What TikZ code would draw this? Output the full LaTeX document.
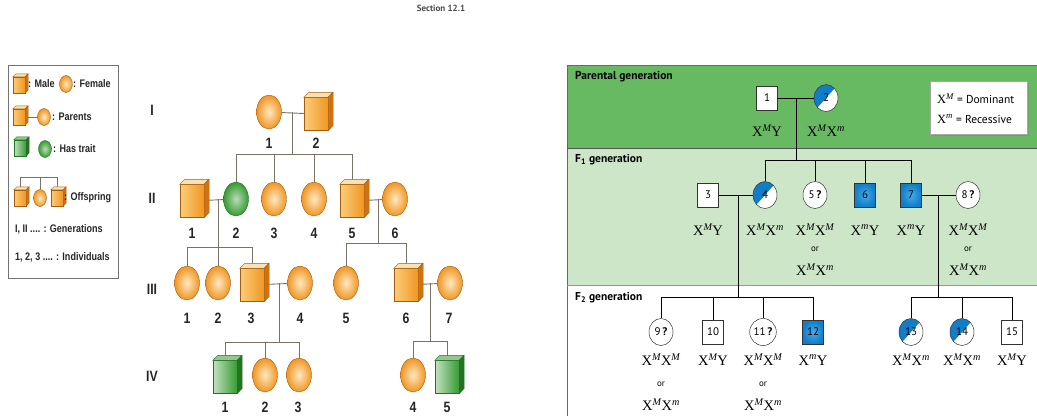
\documentclass[tikz,border=0pt]{standalone}
\usepackage{fontspec}
\setmainfont{Liberation Serif}
\setsansfont{PT Sans}
\newfontfamily\pedfont[FakeStretch=0.82]{Liberation Sans}
\usetikzlibrary{shapes.geometric,shadows}
\pgfdeclarelayer{bands}
\pgfdeclarelayer{links}
\pgfsetlayers{bands,links,main}
\definecolor{pedorange}{RGB}{240,150,35}
\definecolor{pedorangelight}{RGB}{252,205,120}
\definecolor{pedorangedark}{RGB}{205,115,20}
\definecolor{pedgreen}{RGB}{55,155,50}
\definecolor{pedgreendark}{RGB}{35,115,35}
\definecolor{pedline}{RGB}{120,115,100}
\definecolor{bandP}{RGB}{103,186,98}
\definecolor{bandF}{RGB}{206,230,200}
\definecolor{trait}{RGB}{15,125,200}
\definecolor{traitlight}{RGB}{70,170,235}
\definecolor{framegray}{RGB}{105,105,105}
\newcommand\gsup[1]{\textsuperscript{\itshape #1}}
\tikzset{
 pedlink/.style={draw=pedline, line width=0.9pt},
 rlink/.style={draw=black, line width=0.8pt},
 fem/.style={ellipse, inner sep=0pt, minimum width=25pt, minimum height=34pt, draw=pedorangedark!80!black, line width=0.4pt, inner color=pedorangelight!45!white, outer color=pedorange},
 femg/.style={fem, draw=pedgreendark, inner color=pedgreen!35!white, outer color=pedgreen},
 fems/.style={minimum width=13pt, minimum height=17pt},
 maleo/.style={rectangle, inner sep=0pt, draw=pedorangedark!80!black, line width=0.4pt, left color=pedorangelight, right color=pedorange},
 maleotop/.style={fill=pedorangelight!60!white, draw=pedorangedark!80!black, line width=0.4pt},
 maleoside/.style={fill=pedorangedark, draw=pedorangedark!80!black, line width=0.4pt},
 maleg/.style={rectangle, inner sep=0pt, draw=pedgreendark, line width=0.4pt, left color=pedgreen!30!white, right color=pedgreen},
 malegtop/.style={fill=pedgreen!55!white, draw=pedgreendark, line width=0.4pt},
 malegside/.style={fill=pedgreendark, draw=pedgreendark, line width=0.4pt},
 gen/.style={font=\pedfont\bfseries\fontsize{15}{15}\selectfont, inner sep=0pt, text=black!85},
 leg/.style={font=\pedfont\bfseries\fontsize{11}{11}\selectfont, inner sep=0pt, anchor=west, text=black!85},
 sq/.style={rectangle, draw=black!80, line width=0.5pt, fill=white, minimum width=21pt, minimum height=24pt, inner sep=0pt, font=\sffamily\fontsize{11}{11}\selectfont},
 sqb/.style={sq, inner color=traitlight, outer color=trait},
 ci/.style={ellipse, draw=black!80, line width=0.5pt, fill=white, minimum width=24pt, minimum height=27pt, inner sep=0pt, font=\sffamily\fontsize{11}{11}\selectfont},
 cih/.style={ci, path picture={\fill[trait] (path picture bounding box.south west) -- (path picture bounding box.north west) -- (path picture bounding box.north east) -- cycle;}},
 geno/.style={font=\fontsize{14.5}{15}\selectfont, inner sep=0pt},
 orr/.style={font=\sffamily\fontsize{9}{9}\selectfont, inner sep=0pt},
 bandlabel/.style={font=\sffamily\bfseries\fontsize{11.5}{12}\selectfont, anchor=west, inner sep=0pt},
}
% name, x, y, width, height, depth, colour set (o or g)
\newcommand\pedmale[7]{%
 \node[male#7, minimum width=#4pt, minimum height=#5pt] (#1) at (#2,#3) {};
 \filldraw[male#7top] (#1.north west) -- ++(#6,-#6) -- ++(#4,0) -- (#1.north east) -- cycle;
 \filldraw[male#7side] (#1.north east) -- ++(#6,-#6) -- ++(0,#5) -- (#1.south east) -- cycle;
}
\begin{document}
\begin{tikzpicture}[x=1pt,y=-1pt]
\useasboundingbox (0,0) rectangle (1037,416);
\node[font=\sffamily\bfseries\fontsize{9}{9}\selectfont, inner sep=0pt, text=black!70] (sect) at (441,8) {Section 12.1};

% ---------- legend ----------
\draw[draw=black!55, line width=0.6pt] (8,65) rectangle (118,278);
\pedmale{Lm1}{19}{85}{12}{16}{3}{o}
\node[leg] (Lt1) at (28,84) {: Male};
\node[fem,fems] (Lf1) at (66,84) {};
\node[leg] (Lt2) at (73,84) {: Female};
\pedmale{Lm2}{19}{117}{12}{16}{3}{o}
\node[fem,fems] (Lf2) at (44,117) {};
\node[leg] (Lt3) at (52,117) {: Parents};
\pedmale{Lm3}{20}{148}{12}{16}{3}{g}
\node[femg,fems] (Lf3) at (45,149) {};
\node[leg] (Lt4) at (53,149) {: Has trait};
\coordinate (Lob) at (40,177);
\pedmale{Lo1}{20}{198}{12}{16}{3}{o}
\node[fem,fems] (Lo2) at (40,198) {};
\pedmale{Lo3}{57}{198}{12}{16}{3}{o}
\node[leg] (Lt5) at (64,198) {: Offspring};
\node[leg] (Lt6) at (15,229) {I, II .... : Generations};
\node[leg] (Lt7) at (15,257) {1, 2, 3 .... : Individuals};

% ---------- pedigree ----------
\node[gen] (gI) at (152,110) {I};
\node[gen] (gII) at (152,198) {II};
\node[gen] (gIII) at (152,289) {III};
\node[gen] (gIV) at (152,376) {IV};

% generation I
\node[fem] (I1) at (269,112) {};
\pedmale{I2}{316}{114}{24}{33}{5}{o}
\node[gen] (nI1) at (269,143) {1};
\node[gen] (nI2) at (316,143) {2};
\coordinate (mI) at (292,112);
\coordinate (sI) at (292,154);

% generation II
\pedmale{II1}{192}{201}{24}{33}{5}{o}
\node[femg] (II2) at (236,199) {};
\node[fem] (II3) at (274,199) {};
\node[fem] (II4) at (314,199) {};
\pedmale{II5}{352}{201}{24}{33}{5}{o}
\node[fem] (II6) at (395,199) {};
\node[gen] (nII1) at (192,233) {1};
\node[gen] (nII2) at (236,233) {2};
\node[gen] (nII3) at (274,233) {3};
\node[gen] (nII4) at (314,233) {4};
\node[gen] (nII5) at (352,233) {5};
\node[gen] (nII6) at (395,233) {6};
\coordinate (mIIa) at (218,199);
\coordinate (sIIa) at (218,247);
\coordinate (mIIb) at (378,199);
\coordinate (sIIb) at (378,243);

% generation III
\node[fem] (III1) at (187,283) {};
\node[fem] (III2) at (218,283) {};
\pedmale{III3}{252}{285}{24}{33}{5}{o}
\node[fem] (III4) at (300,283) {};
\node[fem] (III5) at (346,283) {};
\pedmale{III6}{406}{285}{24}{33}{5}{o}
\node[fem] (III7) at (450,283) {};
\node[gen] (nIII1) at (187,318) {1};
\node[gen] (nIII2) at (218,318) {2};
\node[gen] (nIII3) at (251,318) {3};
\node[gen] (nIII4) at (300,318) {4};
\node[gen] (nIII5) at (346,318) {5};
\node[gen] (nIII6) at (406,318) {6};
\node[gen] (nIII7) at (449,318) {7};
\coordinate (mIIIa) at (279,283);
\coordinate (sIIIa) at (279,342);
\coordinate (mIIIb) at (430,283);
\coordinate (sIIIb) at (430,341);

% generation IV
\pedmale{IV1}{225}{377}{24}{33}{5}{g}
\node[fem] (IV2) at (265,375) {};
\node[fem] (IV3) at (299,375) {};
\node[fem] (IV4) at (413,375) {};
\pedmale{IV5}{447}{377}{24}{33}{5}{g}
\node[gen] (nIV1) at (225,407) {1};
\node[gen] (nIV2) at (265,407) {2};
\node[gen] (nIV3) at (298,407) {3};
\node[gen] (nIV4) at (413,407) {4};
\node[gen] (nIV5) at (447,407) {5};

\begin{pgfonlayer}{links}
\draw[pedlink] (Lm2) -- (Lf2);
\draw[pedlink] (Lob) -| (Lo1);
\draw[pedlink] (Lob) -- (Lo2);
\draw[pedlink] (Lob) -| (Lo3);
\draw[pedlink] (I1) -- (I2);
\draw[pedlink] (mI) -- (sI);
\draw[pedlink] (sI) -| (II2);
\draw[pedlink] (sI) -| (II3);
\draw[pedlink] (sI) -| (II4);
\draw[pedlink] (sI) -| (II5);
\draw[pedlink] (II1) -- (II2);
\draw[pedlink] (mIIa) -- (sIIa);
\draw[pedlink] (sIIa) -| (III1);
\draw[pedlink] (sIIa) -- (III2);
\draw[pedlink] (sIIa) -| (III3);
\draw[pedlink] (II5) -- (II6);
\draw[pedlink] (mIIb) -- (sIIb);
\draw[pedlink] (sIIb) -| (III5);
\draw[pedlink] (sIIb) -| (III6);
\draw[pedlink] (III3) -- (III4);
\draw[pedlink] (mIIIa) -- (sIIIa);
\draw[pedlink] (sIIIa) -| (IV1);
\draw[pedlink] (sIIIa) -| (IV2);
\draw[pedlink] (sIIIa) -| (IV3);
\draw[pedlink] (III6) -- (III7);
\draw[pedlink] (mIIIb) -- (sIIIb);
\draw[pedlink] (sIIIb) -| (IV4);
\draw[pedlink] (sIIIb) -| (IV5);
\end{pgfonlayer}

% ---------- right panel ----------
\begin{pgfonlayer}{bands}
\fill[bandP] (567,65) rectangle (1037,148);
\fill[bandF] (567,148) rectangle (1037,285);
\draw[framegray, line width=1pt] (1037,65) -- (567,65) -- (567,416);
\draw[framegray!80!black, line width=1pt] (567,148) -- (1037,148);
\draw[framegray!70, line width=1pt] (567,285) -- (1037,285);
\end{pgfonlayer}
\node[bandlabel] (lP) at (575,77) {Parental generation};
\node[bandlabel] (lF1) at (575,160) {F\textsubscript{1} generation};
\node[bandlabel] (lF2) at (575,298) {F\textsubscript{2} generation};

\node[draw=black!35, fill=white, drop shadow={shadow xshift=2pt, shadow yshift=-2pt, opacity=0.45}, minimum width=97pt, minimum height=53pt, inner sep=0pt] (key) at (978.5,107.5) {};
\node[anchor=west, inner sep=0pt, font=\fontsize{12.5}{13}\selectfont] (k1) at (937,99) {X\gsup{M} {\sffamily\fontsize{11.5}{12}\selectfont = Dominant}};
\node[anchor=west, inner sep=0pt, font=\fontsize{12.5}{13}\selectfont] (k2) at (937,119) {X\gsup{m} {\sffamily\fontsize{11.5}{12}\selectfont = Recessive}};

% parental
\node[sq] (p1) at (767,98) {1};
\node[cih] (p2) at (826,98) {2};
\node[geno] (gp1) at (767,131) {X\gsup{M}Y};
\node[geno] (gp2) at (826,131) {X\gsup{M}X\gsup{m}};
\coordinate (mP) at (796,98);
\coordinate (sP) at (796,160);

% F1
\node[sq] (f3) at (708,195) {3};
\node[cih] (f4) at (765,195) {4};
\node[ci] (f5) at (815,195) {5\,\textbf{?}};
\node[sqb] (f6) at (865,195) {6};
\node[sqb] (f7) at (911,195) {7};
\node[ci] (f8) at (968,195) {8\,\textbf{?}};
\node[geno] (gf3) at (708,230) {X\gsup{M}Y};
\node[geno] (gf4) at (765,230) {X\gsup{M}X\gsup{m}};
\node[geno] (gf5a) at (815,230) {X\gsup{M}X\gsup{M}};
\node[orr] (gf5o) at (815,249) {or};
\node[geno] (gf5b) at (815,270) {X\gsup{M}X\gsup{m}};
\node[geno] (gf6) at (865,230) {X\gsup{m}Y};
\node[geno] (gf7) at (911,230) {X\gsup{m}Y};
\node[geno] (gf8a) at (968,230) {X\gsup{M}X\gsup{M}};
\node[orr] (gf8o) at (968,249) {or};
\node[geno] (gf8b) at (968,270) {X\gsup{M}X\gsup{m}};
\coordinate (mFa) at (738,195);
\coordinate (sFa) at (738,297);
\coordinate (mFb) at (938,195);
\coordinate (sFb) at (938,297);

% F2
\node[ci] (c9) at (661,332) {9\,\textbf{?}};
\node[sq] (c10) at (713,332) {10};
\node[ci] (c11) at (763,332) {11\,\textbf{?}};
\node[sqb] (c12) at (813,332) {12};
\node[cih] (c13) at (911,332) {13};
\node[cih] (c14) at (962,332) {14};
\node[sq] (c15) at (1012,332) {15};
\node[geno] (gc9a) at (661,360) {X\gsup{M}X\gsup{M}};
\node[orr] (gc9o) at (661,384) {or};
\node[geno] (gc9b) at (661,405) {X\gsup{M}X\gsup{m}};
\node[geno] (gc10) at (713,360) {X\gsup{M}Y};
\node[geno] (gc11a) at (763,360) {X\gsup{M}X\gsup{M}};
\node[orr] (gc11o) at (763,384) {or};
\node[geno] (gc11b) at (763,405) {X\gsup{M}X\gsup{m}};
\node[geno] (gc12) at (813,360) {X\gsup{m}Y};
\node[geno] (gc13) at (911,360) {X\gsup{M}X\gsup{m}};
\node[geno] (gc14) at (962,360) {X\gsup{M}X\gsup{m}};
\node[geno] (gc15) at (1012,360) {X\gsup{M}Y};

\begin{pgfonlayer}{links}
\draw[rlink] (p1) -- (p2);
\draw[rlink] (mP) -- (sP);
\draw[rlink] (sP) -| (f4);
\draw[rlink] (sP) -| (f5);
\draw[rlink] (sP) -| (f6);
\draw[rlink] (sP) -| (f7);
\draw[rlink] (f3) -- (f4);
\draw[rlink] (mFa) -- (sFa);
\draw[rlink] (sFa) -| (c9);
\draw[rlink] (sFa) -| (c10);
\draw[rlink] (sFa) -| (c11);
\draw[rlink] (sFa) -| (c12);
\draw[rlink] (f7) -- (f8);
\draw[rlink] (mFb) -- (sFb);
\draw[rlink] (sFb) -| (c13);
\draw[rlink] (sFb) -| (c14);
\draw[rlink] (sFb) -| (c15);
\end{pgfonlayer}
\end{tikzpicture}
\end{document}
